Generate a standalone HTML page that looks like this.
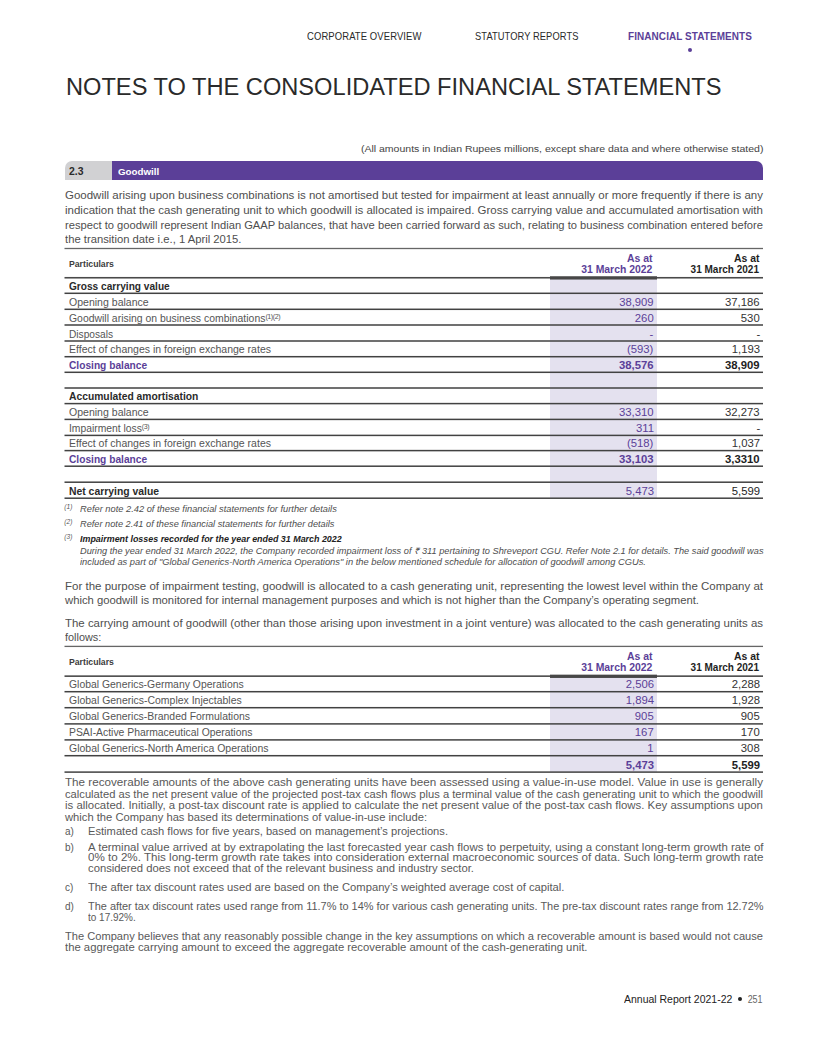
<!DOCTYPE html>
<html><head><meta charset="utf-8"><style>
html,body{margin:0;padding:0;background:#fff;}
body{width:820px;height:1037px;position:relative;overflow:hidden;font-family:"Liberation Sans",sans-serif;}
.t{position:absolute;white-space:nowrap;}
.r{position:absolute;}
sup{font-size:68%;line-height:0;vertical-align:0.4em;letter-spacing:-0.4px;}
</style></head><body>
<div class="t" id="L1" style="top:31.25px;font-size:10.3px;line-height:12.36px;color:#2a2a2a;letter-spacing:0.1px;left:307.00px;transform:scaleX(0.9201);transform-origin:left center;"><span>CORPORATE OVERVIEW</span></div>
<div class="t" id="L2" style="top:31.25px;font-size:10.3px;line-height:12.36px;color:#2a2a2a;letter-spacing:0.1px;left:475.00px;transform:scaleX(0.9045);transform-origin:left center;"><span>STATUTORY REPORTS</span></div>
<div class="t" id="L3" style="top:31.25px;font-size:10.3px;line-height:12.36px;color:#5b3f98;font-weight:700;letter-spacing:0.1px;left:627.50px;transform:scaleX(0.9656);transform-origin:left center;"><span>FINANCIAL STATEMENTS</span></div>
<div class="r" style="left:687.5px;top:47.8px;width:4px;height:4px;border-radius:50%;background:#5b3f98"></div>
<div class="t" id="L4" style="top:72.11px;font-size:24.7px;line-height:29.64px;color:#2a2a2a;left:66.00px;transform:scaleX(0.9570);transform-origin:left center;"><span>NOTES TO THE CONSOLIDATED FINANCIAL STATEMENTS</span></div>
<div class="t" id="L5" style="top:143.11px;font-size:9.6px;line-height:11.52px;color:#444;right:56.50px;transform:scaleX(1.0955);transform-origin:right center;"><span>(All amounts in Indian Rupees millions, except share data and where otherwise stated)</span></div>
<div class="r" style="left:64.5px;top:160.5px;width:47.5px;height:19.5px;background:#d1d1d3;border-top-left-radius:7px"></div>
<div class="r" style="left:112px;top:160.5px;width:651px;height:19.5px;background:#5b3f98;border-top-right-radius:7px"></div>
<div class="t" id="L6" style="top:165.73px;font-size:10px;line-height:12.00px;color:#2a2a2a;font-weight:700;left:69.00px;transform:scaleX(1.0427);transform-origin:left center;"><span>2.3</span></div>
<div class="t" id="L7" style="top:166.12px;font-size:9.8px;line-height:11.76px;color:#fff;font-weight:700;left:118.00px;transform:scaleX(0.9962);transform-origin:left center;"><span>Goodwill</span></div>
<div class="t" id="L8" style="top:189.47px;font-size:10.8px;line-height:12.96px;color:#4e4e4e;left:65.00px;transform:scaleX(1.0641);transform-origin:left center;"><span>Goodwill arising upon business combinations is not amortised but tested for impairment at least annually or more frequently if there is any</span></div>
<div class="t" id="L9" style="top:204.02px;font-size:10.8px;line-height:12.96px;color:#4e4e4e;left:65.00px;transform:scaleX(1.0640);transform-origin:left center;"><span>indication that the cash generating unit to which goodwill is allocated is impaired. Gross carrying value and accumulated amortisation with</span></div>
<div class="t" id="L10" style="top:218.57px;font-size:10.8px;line-height:12.96px;color:#4e4e4e;left:65.00px;transform:scaleX(1.0331);transform-origin:left center;"><span>respect to goodwill represent Indian GAAP balances, that have been carried forward as such, relating to business combination entered before</span></div>
<div class="t" id="L11" style="top:233.12px;font-size:10.8px;line-height:12.96px;color:#4e4e4e;left:65.00px;transform:scaleX(1.0427);transform-origin:left center;"><span>the transition date i.e., 1 April 2015.</span></div>
<div class="r" style="left:550px;width:107px;top:277px;height:221px;background:#e4e1ef;"></div>
<div class="t" id="L12" style="top:258.86px;font-size:8.6px;line-height:10.32px;color:#3c3c3c;font-weight:700;left:69.00px;transform:scaleX(1.0104);transform-origin:left center;"><span>Particulars</span></div>
<div class="t" id="L13" style="top:253.03px;font-size:10px;line-height:12.00px;color:#5b3f98;font-weight:700;right:167.30px;transform:scaleX(1.0411);transform-origin:right center;"><span>As at</span></div>
<div class="t" id="L14" style="top:264.13px;font-size:10px;line-height:12.00px;color:#5b3f98;font-weight:700;right:167.30px;transform:scaleX(1.0411);transform-origin:right center;"><span>31 March 2022</span></div>
<div class="t" id="L15" style="top:253.03px;font-size:10px;line-height:12.00px;color:#1e1e1e;font-weight:700;right:61.00px;transform:scaleX(1.0411);transform-origin:right center;"><span>As at</span></div>
<div class="t" id="L16" style="top:264.13px;font-size:10px;line-height:12.00px;color:#1e1e1e;font-weight:700;right:61.00px;"><span>31 March 2021</span></div>
<div class="t" id="L17" style="top:280.93px;font-size:10px;line-height:12.00px;color:#2a2a2a;font-weight:700;left:69.00px;transform:scaleX(1.0121);transform-origin:left center;"><span>Gross carrying value</span></div>
<div class="t" id="L18" style="top:296.93px;font-size:10px;line-height:12.00px;color:#555;left:69.00px;transform:scaleX(1.0539);transform-origin:left center;"><span>Opening balance</span></div>
<div class="t" id="L19" style="top:296.93px;font-size:10px;line-height:12.00px;color:#5b3f98;right:166.30px;transform:scaleX(1.1244);transform-origin:right center;"><span>38,909</span></div>
<div class="t" id="L20" style="top:296.93px;font-size:10px;line-height:12.00px;color:#333;right:60.00px;transform:scaleX(1.1309);transform-origin:right center;"><span>37,186</span></div>
<div class="t" id="L21" style="top:312.63px;font-size:10px;line-height:12.00px;color:#555;left:69.00px;transform:scaleX(1.0422);transform-origin:left center;"><span>Goodwill arising on business combinations<sup>(1)(2)</sup></span></div>
<div class="t" id="L22" style="top:312.63px;font-size:10px;line-height:12.00px;color:#5b3f98;right:166.30px;transform:scaleX(1.1309);transform-origin:right center;"><span>260</span></div>
<div class="t" id="L23" style="top:312.63px;font-size:10px;line-height:12.00px;color:#333;right:60.00px;transform:scaleX(1.1309);transform-origin:right center;"><span>530</span></div>
<div class="t" id="L24" style="top:328.63px;font-size:10px;line-height:12.00px;color:#555;left:69.00px;transform:scaleX(1.0171);transform-origin:left center;"><span>Disposals</span></div>
<div class="t" id="L25" style="top:328.63px;font-size:10px;line-height:12.00px;color:#5b3f98;right:166.30px;transform:scaleX(1.1309);transform-origin:right center;"><span>-</span></div>
<div class="t" id="L26" style="top:328.63px;font-size:10px;line-height:12.00px;color:#333;right:60.00px;transform:scaleX(1.1309);transform-origin:right center;"><span>-</span></div>
<div class="t" id="L27" style="top:344.33px;font-size:10px;line-height:12.00px;color:#555;left:69.00px;transform:scaleX(1.0511);transform-origin:left center;"><span>Effect of changes in foreign exchange rates</span></div>
<div class="t" id="L28" style="top:344.33px;font-size:10px;line-height:12.00px;color:#5b3f98;right:166.30px;transform:scaleX(1.1309);transform-origin:right center;"><span>(593)</span></div>
<div class="t" id="L29" style="top:344.33px;font-size:10px;line-height:12.00px;color:#333;right:60.00px;transform:scaleX(1.1309);transform-origin:right center;"><span>1,193</span></div>
<div class="t" id="L30" style="top:359.93px;font-size:10px;line-height:12.00px;color:#5b3f98;font-weight:700;left:69.00px;transform:scaleX(1.0184);transform-origin:left center;"><span>Closing balance</span></div>
<div class="t" id="L31" style="top:359.93px;font-size:10px;line-height:12.00px;color:#5b3f98;font-weight:700;right:166.30px;transform:scaleX(1.1309);transform-origin:right center;"><span>38,576</span></div>
<div class="t" id="L32" style="top:359.93px;font-size:10px;line-height:12.00px;color:#1e1e1e;font-weight:700;right:60.00px;transform:scaleX(1.1309);transform-origin:right center;"><span>38,909</span></div>
<div class="t" id="L33" style="top:391.23px;font-size:10px;line-height:12.00px;color:#2a2a2a;font-weight:700;left:69.00px;transform:scaleX(1.0303);transform-origin:left center;"><span>Accumulated amortisation</span></div>
<div class="t" id="L34" style="top:407.03px;font-size:10px;line-height:12.00px;color:#555;left:69.00px;transform:scaleX(1.0539);transform-origin:left center;"><span>Opening balance</span></div>
<div class="t" id="L35" style="top:407.03px;font-size:10px;line-height:12.00px;color:#5b3f98;right:166.30px;transform:scaleX(1.1309);transform-origin:right center;"><span>33,310</span></div>
<div class="t" id="L36" style="top:407.03px;font-size:10px;line-height:12.00px;color:#333;right:60.00px;transform:scaleX(1.1309);transform-origin:right center;"><span>32,273</span></div>
<div class="t" id="L37" style="top:423.03px;font-size:10px;line-height:12.00px;color:#555;left:69.00px;transform:scaleX(1.0323);transform-origin:left center;"><span>Impairment loss<sup>(3)</sup></span></div>
<div class="t" id="L38" style="top:423.03px;font-size:10px;line-height:12.00px;color:#5b3f98;right:166.30px;transform:scaleX(1.1309);transform-origin:right center;"><span>311</span></div>
<div class="t" id="L39" style="top:423.03px;font-size:10px;line-height:12.00px;color:#333;right:60.00px;transform:scaleX(1.1309);transform-origin:right center;"><span>-</span></div>
<div class="t" id="L40" style="top:438.23px;font-size:10px;line-height:12.00px;color:#555;left:69.00px;transform:scaleX(1.0511);transform-origin:left center;"><span>Effect of changes in foreign exchange rates</span></div>
<div class="t" id="L41" style="top:438.23px;font-size:10px;line-height:12.00px;color:#5b3f98;right:166.30px;transform:scaleX(1.1309);transform-origin:right center;"><span>(518)</span></div>
<div class="t" id="L42" style="top:438.23px;font-size:10px;line-height:12.00px;color:#333;right:60.00px;transform:scaleX(1.1309);transform-origin:right center;"><span>1,037</span></div>
<div class="t" id="L43" style="top:453.83px;font-size:10px;line-height:12.00px;color:#5b3f98;font-weight:700;left:69.00px;transform:scaleX(1.0184);transform-origin:left center;"><span>Closing balance</span></div>
<div class="t" id="L44" style="top:453.83px;font-size:10px;line-height:12.00px;color:#5b3f98;font-weight:700;right:166.30px;transform:scaleX(1.1309);transform-origin:right center;"><span>33,103</span></div>
<div class="t" id="L45" style="top:453.83px;font-size:10px;line-height:12.00px;color:#1e1e1e;font-weight:700;right:60.00px;transform:scaleX(1.1309);transform-origin:right center;"><span>3,3310</span></div>
<div class="t" id="L46" style="top:485.83px;font-size:10px;line-height:12.00px;color:#2a2a2a;font-weight:700;left:69.00px;transform:scaleX(1.0379);transform-origin:left center;"><span>Net carrying value</span></div>
<div class="t" id="L47" style="top:485.83px;font-size:10px;line-height:12.00px;color:#5b3f98;right:166.30px;transform:scaleX(1.1309);transform-origin:right center;"><span>5,473</span></div>
<div class="t" id="L48" style="top:485.83px;font-size:10px;line-height:12.00px;color:#1e1e1e;right:60.00px;transform:scaleX(1.1309);transform-origin:right center;"><span>5,599</span></div>
<div class="t" id="L49" style="top:500.86px;font-size:8.6px;line-height:10.32px;color:#555;font-style:italic;left:64.30px;"><span><span style="font-size:6.6px">(1)</span></span></div>
<div class="t" id="L50" style="top:504.36px;font-size:8.6px;line-height:10.32px;color:#4d4d4d;font-style:italic;left:80.00px;transform:scaleX(1.0816);transform-origin:left center;"><span>Refer note 2.42 of these financial statements for further details</span></div>
<div class="t" id="L51" style="top:515.86px;font-size:8.6px;line-height:10.32px;color:#555;font-style:italic;left:64.30px;"><span><span style="font-size:6.6px">(2)</span></span></div>
<div class="t" id="L52" style="top:519.36px;font-size:8.6px;line-height:10.32px;color:#4d4d4d;font-style:italic;left:80.00px;transform:scaleX(1.0716);transform-origin:left center;"><span>Refer note 2.41 of these financial statements for further details</span></div>
<div class="t" id="L53" style="top:530.86px;font-size:8.6px;line-height:10.32px;color:#555;font-style:italic;left:64.30px;"><span><span style="font-size:6.6px">(3)</span></span></div>
<div class="t" id="L54" style="top:534.36px;font-size:8.6px;line-height:10.32px;color:#222;font-weight:700;font-style:italic;left:80.00px;transform:scaleX(1.0358);transform-origin:left center;"><span>Impairment losses recorded for the year ended 31 March 2022</span></div>
<div class="t" id="L55" style="top:545.96px;font-size:8.6px;line-height:10.32px;color:#4d4d4d;font-style:italic;left:80.00px;transform:scaleX(1.0725);transform-origin:left center;"><span>During the year ended 31 March 2022, the Company recorded impairment loss of &#8377; 311 pertaining to Shreveport CGU. Refer Note 2.1 for details. The said goodwill was</span></div>
<div class="t" id="L56" style="top:556.56px;font-size:8.6px;line-height:10.32px;color:#4d4d4d;font-style:italic;left:80.00px;transform:scaleX(1.0869);transform-origin:left center;"><span>included as part of "Global Generics-North America Operations" in the below mentioned schedule for allocation of goodwill among CGUs.</span></div>
<div class="t" id="L57" style="top:579.77px;font-size:10.8px;line-height:12.96px;color:#4e4e4e;left:65.00px;transform:scaleX(1.0651);transform-origin:left center;"><span>For the purpose of impairment testing, goodwill is allocated to a cash generating unit, representing the lowest level within the Company at</span></div>
<div class="t" id="L58" style="top:593.87px;font-size:10.8px;line-height:12.96px;color:#4e4e4e;left:65.00px;transform:scaleX(1.0452);transform-origin:left center;"><span>which goodwill is monitored for internal management purposes and which is not higher than the Company&#8217;s operating segment.</span></div>
<div class="t" id="L59" style="top:616.77px;font-size:10.8px;line-height:12.96px;color:#4e4e4e;left:65.00px;transform:scaleX(1.0592);transform-origin:left center;"><span>The carrying amount of goodwill (other than those arising upon investment in a joint venture) was allocated to the cash generating units as</span></div>
<div class="t" id="L60" style="top:631.27px;font-size:10.8px;line-height:12.96px;color:#4e4e4e;left:65.00px;transform:scaleX(1.0079);transform-origin:left center;"><span>follows:</span></div>
<div class="r" style="left:550px;width:107px;top:676px;height:96px;background:#e4e1ef;"></div>
<div class="t" id="L61" style="top:656.86px;font-size:8.6px;line-height:10.32px;color:#3c3c3c;font-weight:700;left:69.00px;transform:scaleX(1.0104);transform-origin:left center;"><span>Particulars</span></div>
<div class="t" id="L62" style="top:651.03px;font-size:10px;line-height:12.00px;color:#5b3f98;font-weight:700;right:167.30px;transform:scaleX(1.0411);transform-origin:right center;"><span>As at</span></div>
<div class="t" id="L63" style="top:662.13px;font-size:10px;line-height:12.00px;color:#5b3f98;font-weight:700;right:167.30px;transform:scaleX(1.0411);transform-origin:right center;"><span>31 March 2022</span></div>
<div class="t" id="L64" style="top:651.03px;font-size:10px;line-height:12.00px;color:#1e1e1e;font-weight:700;right:61.00px;transform:scaleX(1.0411);transform-origin:right center;"><span>As at</span></div>
<div class="t" id="L65" style="top:662.13px;font-size:10px;line-height:12.00px;color:#1e1e1e;font-weight:700;right:61.00px;"><span>31 March 2021</span></div>
<div class="t" id="L66" style="top:679.23px;font-size:10px;line-height:12.00px;color:#555;left:69.00px;transform:scaleX(1.0408);transform-origin:left center;"><span>Global Generics-Germany Operations</span></div>
<div class="t" id="L67" style="top:679.23px;font-size:10px;line-height:12.00px;color:#5b3f98;right:166.30px;transform:scaleX(1.1309);transform-origin:right center;"><span>2,506</span></div>
<div class="t" id="L68" style="top:679.23px;font-size:10px;line-height:12.00px;color:#333;right:60.00px;transform:scaleX(1.1309);transform-origin:right center;"><span>2,288</span></div>
<div class="t" id="L69" style="top:695.23px;font-size:10px;line-height:12.00px;color:#555;left:69.00px;transform:scaleX(1.0462);transform-origin:left center;"><span>Global Generics-Complex Injectables</span></div>
<div class="t" id="L70" style="top:695.23px;font-size:10px;line-height:12.00px;color:#5b3f98;right:166.30px;transform:scaleX(1.1309);transform-origin:right center;"><span>1,894</span></div>
<div class="t" id="L71" style="top:695.23px;font-size:10px;line-height:12.00px;color:#333;right:60.00px;transform:scaleX(1.1309);transform-origin:right center;"><span>1,928</span></div>
<div class="t" id="L72" style="top:711.43px;font-size:10px;line-height:12.00px;color:#555;left:69.00px;transform:scaleX(1.0437);transform-origin:left center;"><span>Global Generics-Branded Formulations</span></div>
<div class="t" id="L73" style="top:711.43px;font-size:10px;line-height:12.00px;color:#5b3f98;right:166.30px;transform:scaleX(1.1309);transform-origin:right center;"><span>905</span></div>
<div class="t" id="L74" style="top:711.43px;font-size:10px;line-height:12.00px;color:#333;right:60.00px;transform:scaleX(1.1309);transform-origin:right center;"><span>905</span></div>
<div class="t" id="L75" style="top:727.43px;font-size:10px;line-height:12.00px;color:#555;left:69.00px;transform:scaleX(1.0377);transform-origin:left center;"><span>PSAI-Active Pharmaceutical Operations</span></div>
<div class="t" id="L76" style="top:727.43px;font-size:10px;line-height:12.00px;color:#5b3f98;right:166.30px;transform:scaleX(1.1309);transform-origin:right center;"><span>167</span></div>
<div class="t" id="L77" style="top:727.43px;font-size:10px;line-height:12.00px;color:#333;right:60.00px;transform:scaleX(1.1309);transform-origin:right center;"><span>170</span></div>
<div class="t" id="L78" style="top:743.23px;font-size:10px;line-height:12.00px;color:#555;left:69.00px;transform:scaleX(1.0495);transform-origin:left center;"><span>Global Generics-North America Operations</span></div>
<div class="t" id="L79" style="top:743.23px;font-size:10px;line-height:12.00px;color:#5b3f98;right:166.30px;transform:scaleX(1.1309);transform-origin:right center;"><span>1</span></div>
<div class="t" id="L80" style="top:743.23px;font-size:10px;line-height:12.00px;color:#333;right:60.00px;transform:scaleX(1.1309);transform-origin:right center;"><span>308</span></div>
<div class="t" id="L81" style="top:759.63px;font-size:10px;line-height:12.00px;color:#5b3f98;font-weight:700;right:166.30px;transform:scaleX(1.1309);transform-origin:right center;"><span>5,473</span></div>
<div class="t" id="L82" style="top:759.63px;font-size:10px;line-height:12.00px;color:#1e1e1e;font-weight:700;right:60.00px;transform:scaleX(1.1309);transform-origin:right center;"><span>5,599</span></div>
<div class="t" id="L83" style="top:777.13px;font-size:10px;line-height:12.00px;color:#595959;left:65.00px;transform:scaleX(1.1652);transform-origin:left center;"><span>The recoverable amounts of the above cash generating units have been assessed using a value-in-use model. Value in use is generally</span></div>
<div class="t" id="L84" style="top:788.63px;font-size:10px;line-height:12.00px;color:#595959;left:65.00px;transform:scaleX(1.1181);transform-origin:left center;"><span>calculated as the net present value of the projected post-tax cash flows plus a terminal value of the cash generating unit to which the goodwill</span></div>
<div class="t" id="L85" style="top:800.13px;font-size:10px;line-height:12.00px;color:#595959;left:65.00px;transform:scaleX(1.1408);transform-origin:left center;"><span>is allocated. Initially, a post-tax discount rate is applied to calculate the net present value of the post-tax cash flows. Key assumptions upon</span></div>
<div class="t" id="L86" style="top:811.63px;font-size:10px;line-height:12.00px;color:#595959;left:65.00px;transform:scaleX(1.1193);transform-origin:left center;"><span>which the Company has based its determinations of value-in-use include:</span></div>
<div class="t" id="L87" style="top:825.83px;font-size:10px;line-height:12.00px;color:#595959;left:65.00px;"><span>a)</span></div>
<div class="t" id="L88" style="top:825.83px;font-size:10px;line-height:12.00px;color:#595959;left:87.50px;transform:scaleX(1.1154);transform-origin:left center;"><span>Estimated cash flows for five years, based on management&#8217;s projections.</span></div>
<div class="t" id="L89" style="top:841.93px;font-size:10px;line-height:12.00px;color:#595959;left:65.00px;"><span>b)</span></div>
<div class="t" id="L90" style="top:841.93px;font-size:10px;line-height:12.00px;color:#595959;left:87.50px;transform:scaleX(1.1457);transform-origin:left center;"><span>A terminal value arrived at by extrapolating the last forecasted year cash flows to perpetuity, using a constant long-term growth rate of</span></div>
<div class="t" id="L91" style="top:852.43px;font-size:10px;line-height:12.00px;color:#595959;left:87.50px;transform:scaleX(1.1611);transform-origin:left center;"><span>0% to 2%. This long-term growth rate takes into consideration external macroeconomic sources of data. Such long-term growth rate</span></div>
<div class="t" id="L92" style="top:863.43px;font-size:10px;line-height:12.00px;color:#595959;left:87.50px;transform:scaleX(1.1272);transform-origin:left center;"><span>considered does not exceed that of the relevant business and industry sector.</span></div>
<div class="t" id="L93" style="top:882.13px;font-size:10px;line-height:12.00px;color:#595959;left:65.00px;"><span>c)</span></div>
<div class="t" id="L94" style="top:882.13px;font-size:10px;line-height:12.00px;color:#595959;left:87.50px;transform:scaleX(1.1224);transform-origin:left center;"><span>The after tax discount rates used are based on the Company&#8217;s weighted average cost of capital.</span></div>
<div class="t" id="L95" style="top:901.43px;font-size:10px;line-height:12.00px;color:#595959;left:65.00px;"><span>d)</span></div>
<div class="t" id="L96" style="top:901.43px;font-size:10px;line-height:12.00px;color:#595959;left:87.50px;transform:scaleX(1.0935);transform-origin:left center;"><span>The after tax discount rates used range from 11.7% to 14% for various cash generating units. The pre-tax discount rates range from 12.72%</span></div>
<div class="t" id="L97" style="top:912.13px;font-size:10px;line-height:12.00px;color:#595959;left:87.50px;transform:scaleX(0.9976);transform-origin:left center;"><span>to 17.92%.</span></div>
<div class="t" id="L98" style="top:930.73px;font-size:10px;line-height:12.00px;color:#595959;left:65.00px;transform:scaleX(1.1102);transform-origin:left center;"><span>The Company believes that any reasonably possible change in the key assumptions on which a recoverable amount is based would not cause</span></div>
<div class="t" id="L99" style="top:942.13px;font-size:10px;line-height:12.00px;color:#595959;left:65.00px;transform:scaleX(1.1310);transform-origin:left center;"><span>the aggregate carrying amount to exceed the aggregate recoverable amount of the cash-generating unit.</span></div>
<div class="t" id="L100" style="top:992.66px;font-size:10.5px;line-height:12.60px;color:#222;left:624.00px;transform:scaleX(0.9973);transform-origin:left center;"><span>Annual Report 2021-22</span></div>
<div class="r" style="left:737.8px;top:997.2px;width:4.2px;height:4.2px;border-radius:50%;background:#222"></div>
<div class="t" id="L101" style="top:992.66px;font-size:10.5px;line-height:12.60px;color:#666;right:57.20px;transform:scaleX(0.8499);transform-origin:right center;"><span>251</span></div>
<svg width="820" height="1037" style="position:absolute;left:0;top:0"><rect x="64.5" y="247.85" width="698.5" height="1.3" fill="#666"/><rect x="64.5" y="276.95" width="698.5" height="1.6" fill="#4a4a4a"/><rect x="550" y="276.25" width="107" height="3.3" fill="#474747"/><rect x="64.5" y="292.55" width="698.5" height="1.5" fill="#424242"/><rect x="64.5" y="308.55" width="698.5" height="1.5" fill="#424242"/><rect x="64.5" y="324.25" width="698.5" height="1.5" fill="#424242"/><rect x="64.5" y="340.25" width="698.5" height="1.5" fill="#424242"/><rect x="64.5" y="355.95" width="698.5" height="1.5" fill="#424242"/><rect x="64.5" y="371.55" width="698.5" height="1.5" fill="#424242"/><rect x="64.5" y="387.25" width="698.5" height="1.5" fill="#424242"/><rect x="64.5" y="402.85" width="698.5" height="1.5" fill="#424242"/><rect x="64.5" y="418.65" width="698.5" height="1.5" fill="#424242"/><rect x="64.5" y="434.65" width="698.5" height="1.5" fill="#424242"/><rect x="64.5" y="449.85" width="698.5" height="1.5" fill="#424242"/><rect x="64.5" y="465.45" width="698.5" height="1.5" fill="#424242"/><rect x="64.5" y="481.45" width="698.5" height="1.5" fill="#424242"/><rect x="64.5" y="497.45" width="698.5" height="1.5" fill="#424242"/><rect x="64.5" y="645.75" width="698.5" height="1.3" fill="#666"/><rect x="64.5" y="675.35" width="698.5" height="1.6" fill="#4a4a4a"/><rect x="550" y="674.65" width="107" height="3.3" fill="#474747"/><rect x="64.5" y="690.95" width="698.5" height="1.5" fill="#424242"/><rect x="64.5" y="706.95" width="698.5" height="1.5" fill="#424242"/><rect x="64.5" y="723.15" width="698.5" height="1.5" fill="#424242"/><rect x="64.5" y="739.15" width="698.5" height="1.5" fill="#424242"/><rect x="64.5" y="754.95" width="698.5" height="1.5" fill="#424242"/><rect x="64.5" y="771.35" width="698.5" height="1.5" fill="#424242"/></svg>
</body></html>
